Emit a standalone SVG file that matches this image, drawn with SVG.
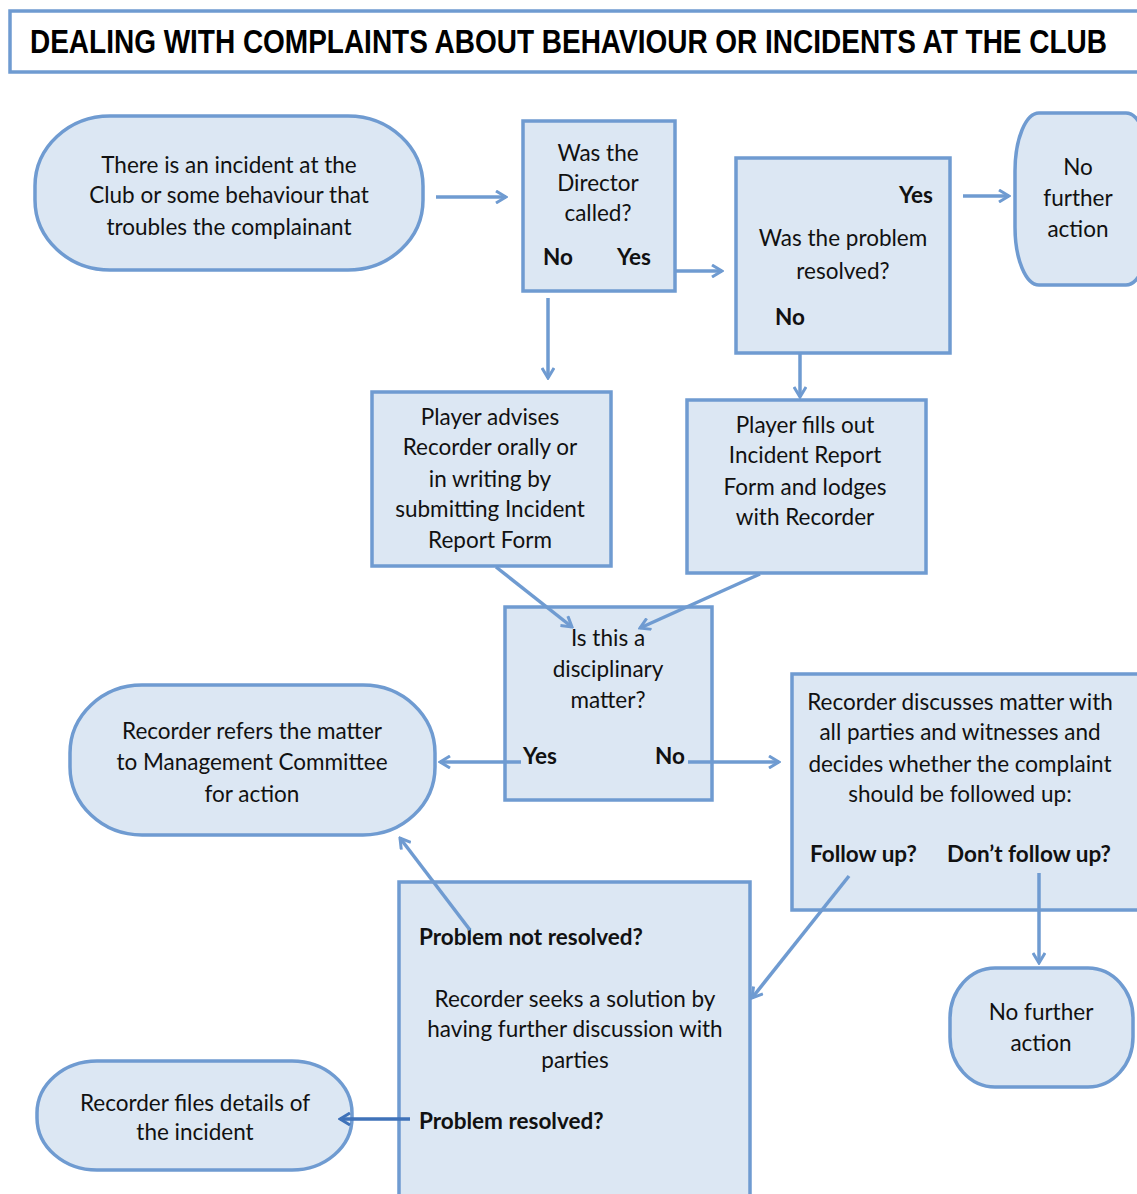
<svg xmlns="http://www.w3.org/2000/svg" width="1137" height="1194" viewBox="0 0 1137 1194">
<defs>
<style>
.box{fill:#dce7f3;stroke:#6f9bd1;stroke-width:3.5}
.t{font-family:Lato,"Open Sans","Liberation Sans",sans-serif;font-size:22.5px;fill:#111;text-anchor:middle}
.b{font-family:Lato,"Open Sans","Liberation Sans",sans-serif;font-size:22.5px;font-weight:bold;fill:#111}
.c{fill:none;stroke:#6f9bd1;stroke-width:3.5}
.title{font-family:"Liberation Sans",Arial,sans-serif;font-weight:bold;font-size:26px;fill:#000}
</style>
<marker id="ah" viewBox="0 0 14 14" refX="12" refY="7" markerWidth="14" markerHeight="14" markerUnits="userSpaceOnUse" orient="auto">
<path d="M2,1 L12,7 L2,13" fill="none" stroke="#6f9bd1" stroke-width="3"/>
</marker>
<marker id="ahd" viewBox="0 0 14 14" refX="12" refY="7" markerWidth="14" markerHeight="14" markerUnits="userSpaceOnUse" orient="auto">
<path d="M2,1 L12,7 L2,13" fill="none" stroke="#3f72b9" stroke-width="3"/>
</marker>
</defs>
<rect width="1137" height="1194" fill="#fff"/>

<g id="title">
<rect x="10" y="11" width="1140" height="61" fill="#fff" stroke="#6f9bd1" stroke-width="3.5"/>
<text class="title" transform="translate(30,53) scale(1,1.25)" x="0" y="0" textLength="1077" lengthAdjust="spacingAndGlyphs">DEALING WITH COMPLAINTS ABOUT BEHAVIOUR OR INCIDENTS AT THE CLUB</text>
</g>

<g id="connectors">
<line class="c" x1="436" y1="197" x2="506" y2="197" marker-end="url(#ah)"/>
<line class="c" x1="675" y1="271" x2="722" y2="271" marker-end="url(#ah)"/>
<line class="c" x1="963" y1="196" x2="1009" y2="196" marker-end="url(#ah)"/>
<line class="c" x1="548" y1="298" x2="548" y2="378" marker-end="url(#ah)"/>
<line class="c" x1="800" y1="348" x2="800" y2="397" marker-end="url(#ah)"/>
</g>

<g id="n-start">
<rect class="box" x="35" y="116" width="388" height="154" rx="75" ry="70"/>
<text class="t" x="229" y="173">There is an incident at the</text>
<text class="t" x="229" y="203">Club or some behaviour that</text>
<text class="t" x="229" y="235">troubles the complainant</text>
</g>

<g id="n-director">
<rect class="box" x="523" y="121" width="152" height="170"/>
<text class="t" x="598" y="161">Was the</text>
<text class="t" x="598" y="191">Director</text>
<text class="t" x="598" y="221">called?</text>
<text class="b" x="543" y="265">No</text>
<text class="b" x="617" y="265">Yes</text>
</g>

<g id="n-resolved">
<rect class="box" x="736" y="158" width="214" height="195"/>
<text class="b" x="933" y="203" text-anchor="end">Yes</text>
<text class="t" x="843" y="246">Was the problem</text>
<text class="t" x="843" y="279">resolved?</text>
<text class="b" x="775" y="325">No</text>
</g>

<g id="n-nofurther1">
<rect class="box" x="1015" y="113" width="135" height="172" rx="24" ry="58"/>
<text class="t" x="1078" y="175">No</text>
<text class="t" x="1078" y="206">further</text>
<text class="t" x="1078" y="237">action</text>
</g>

<g id="n-advises">
<rect class="box" x="372" y="392" width="239" height="174"/>
<text class="t" x="490" y="425">Player advises</text>
<text class="t" x="490" y="455">Recorder orally or</text>
<text class="t" x="490" y="487">in writing by</text>
<text class="t" x="490" y="517">submitting Incident</text>
<text class="t" x="490" y="548">Report Form</text>
</g>

<g id="n-fills">
<rect class="box" x="687" y="400" width="239" height="173"/>
<text class="t" x="805" y="433">Player fills out</text>
<text class="t" x="805" y="463">Incident Report</text>
<text class="t" x="805" y="495">Form and lodges</text>
<text class="t" x="805" y="525">with Recorder</text>
</g>

<g id="n-disciplinary">
<rect class="box" x="505" y="607" width="207" height="193"/>
<text class="t" x="608" y="646">Is this a</text>
<text class="t" x="608" y="677">disciplinary</text>
<text class="t" x="608" y="708">matter?</text>
<text class="b" x="523" y="764">Yes</text>
<text class="b" x="655" y="764">No</text>
</g>

<g id="n-refers">
<rect class="box" x="70" y="685" width="365" height="150" rx="72" ry="68"/>
<text class="t" x="252" y="739">Recorder refers the matter</text>
<text class="t" x="252" y="770">to Management Committee</text>
<text class="t" x="252" y="802">for action</text>
</g>

<g id="n-discusses">
<rect class="box" x="792" y="674" width="360" height="236"/>
<text class="t" x="960" y="710">Recorder discusses matter with</text>
<text class="t" x="960" y="740">all parties and witnesses and</text>
<text class="t" x="960" y="772">decides whether the complaint</text>
<text class="t" x="960" y="802">should be followed up:</text>
<text class="b" x="810" y="862">Follow up?</text>
<text class="b" x="947" y="862">Don’t follow up?</text>
</g>

<g id="n-nofurther2">
<rect class="box" x="950" y="968" width="183" height="119" rx="45" ry="50"/>
<text class="t" x="1041" y="1020">No further</text>
<text class="t" x="1041" y="1051">action</text>
</g>

<g id="n-seeks">
<rect class="box" x="399" y="882" width="351" height="330"/>
<text class="b" x="419" y="945">Problem not resolved?</text>
<text class="t" x="575" y="1007">Recorder seeks a solution by</text>
<text class="t" x="575" y="1037">having further discussion with</text>
<text class="t" x="575" y="1068">parties</text>
<text class="b" x="419" y="1129">Problem resolved?</text>
</g>

<g id="n-files">
<rect class="box" x="37" y="1061" width="315" height="109" rx="60" ry="52"/>
<text class="t" x="195" y="1111">Recorder files details of</text>
<text class="t" x="195" y="1140">the incident</text>
</g>

<g id="connectors2">
<line class="c" x1="496" y1="567" x2="572" y2="627" marker-end="url(#ah)"/>
<line class="c" x1="760" y1="574" x2="640" y2="628" marker-end="url(#ah)"/>
<line class="c" x1="521" y1="762" x2="440" y2="762" marker-end="url(#ah)"/>
<line class="c" x1="688" y1="762" x2="779" y2="762" marker-end="url(#ah)"/>
<line class="c" x1="849" y1="876" x2="752" y2="998" marker-end="url(#ah)"/>
<line class="c" x1="1039" y1="873" x2="1039" y2="963" marker-end="url(#ah)"/>
<line class="c" x1="470" y1="930" x2="400" y2="838" marker-end="url(#ah)"/>
<line x1="410" y1="1119" x2="340" y2="1119" stroke="#3f72b9" stroke-width="3.5" marker-end="url(#ahd)"/>
</g>
</svg>
